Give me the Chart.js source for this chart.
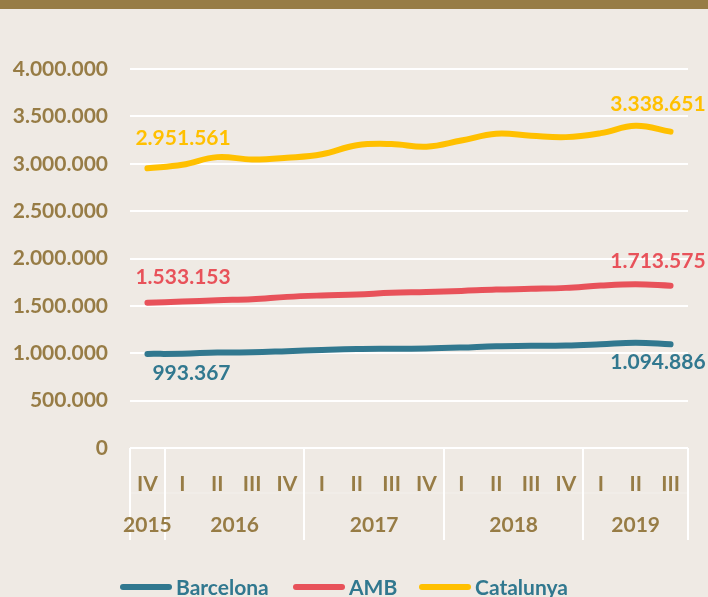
<!DOCTYPE html>
<html>
<head>
<meta charset="utf-8">
<script src="https://cdn.jsdelivr.net/npm/chart.js@4.4.1/dist/chart.umd.min.js"></script>
<style>
  html, body { margin: 0; padding: 0; background: #EFEAE4; overflow: hidden; }
  #wrap { width: 708px; height: 597px; position: relative; }
</style>
</head>
<body>
<div id="wrap"><canvas id="chart"></canvas></div>
<script>
const quarters = ["IV", "I", "II", "III", "IV", "I", "II", "III", "IV", "I", "II", "III", "IV", "I", "II", "III"];
const years = ["2015", "2016", "2017", "2018", "2019"];
const yearSizes = [1, 4, 4, 4, 3];

const barcelona = [993367, 995000, 1008000, 1010000, 1022000, 1035000, 1045000, 1048000, 1050000, 1060000, 1075000, 1078000, 1082000, 1095000, 1110000, 1094886];
const amb = [1533153, 1545000, 1560000, 1570000, 1595000, 1610000, 1620000, 1638000, 1646000, 1658000, 1672000, 1680000, 1690000, 1715000, 1728000, 1713575];
const catalunya = [2951561, 2990000, 3070000, 3045000, 3063000, 3100000, 3195000, 3208000, 3180000, 3245000, 3316000, 3296000, 3281000, 3323000, 3400000, 3338651];

const BROWN = "#977C45";
const BG = "#EFEAE4";
const FONT = "Lato";

function fmt(v) {
  return Math.round(v).toString().replace(/\B(?=(\d{3})+(?!\d))/g, ".");
}

// background + top bar
const backdrop = {
  id: "backdrop",
  beforeDraw(chart) {
    const c = chart.ctx;
    c.save();
    c.fillStyle = BG;
    c.fillRect(0, 0, chart.width, chart.height);
    c.fillStyle = BROWN;
    c.fillRect(0, 0, chart.width, 9);
    c.restore();
  }
};

// year row, separators, end labels, legend
const extras = {
  id: "extras",
  afterDraw(chart) {
    const c = chart.ctx;
    const x = chart.scales.x;
    const area = chart.chartArea;
    const step = (area.right - area.left) / quarters.length;
    c.save();

    // separators
    c.strokeStyle = "#FFFFFF";
    c.lineWidth = 2;
    let k = 0;
    const bounds = [0];
    yearSizes.forEach(n => { k += n; bounds.push(k); });
    bounds.forEach(b => {
      const px = Math.round(area.left + b * step);
      c.beginPath();
      c.moveTo(px, area.bottom);
      c.lineTo(px, area.bottom + 92);
      c.stroke();
    });
    c.strokeStyle = "rgba(255,255,255,0.35)";
    c.lineWidth = 1;
    c.beginPath();
    c.moveTo(area.left, area.bottom + 45);
    c.lineTo(area.right, area.bottom + 45);
    c.stroke();

    // years
    c.fillStyle = BROWN;
    c.font = "bold 21px " + FONT;
    c.textAlign = "center";
    c.textBaseline = "middle";
    years.forEach((y, i) => {
      const cx = area.left + (bounds[i] + bounds[i + 1]) / 2 * step;
      c.fillText(y, cx, area.bottom + 77);
    });

    // end labels
    const ends = [
      { ds: 0, idx: 0, dx: 5, dy: 19, align: "left" },
      { ds: 0, idx: quarters.length - 1, dx: 35, dy: 18, align: "right" },
      { ds: 1, idx: 0, dx: -12, dy: -25, align: "left" },
      { ds: 1, idx: quarters.length - 1, dx: 35, dy: -24, align: "right" },
      { ds: 2, idx: 0, dx: -12, dy: -30, align: "left" },
      { ds: 2, idx: quarters.length - 1, dx: 35, dy: -27, align: "right" }
    ];
    ends.forEach(e => {
      const d = chart.data.datasets[e.ds];
      const pt = chart.getDatasetMeta(e.ds).data[e.idx];
      c.fillStyle = d.borderColor;
      c.textAlign = e.align;
      c.fillText(fmt(d.data[e.idx]), pt.x + e.dx, pt.y + e.dy);
    });

    // legend
    const starts = [120, 293, 419];
    const ly = 587;
    chart.data.datasets.forEach((d, i) => {
      c.strokeStyle = d.borderColor;
      c.lineWidth = 6;
      c.lineCap = "round";
      c.beginPath();
      c.moveTo(starts[i] + 3, ly);
      c.lineTo(starts[i] + 49, ly);
      c.stroke();
      c.fillStyle = "#31788F";
      c.textAlign = "left";
      c.fillText(d.label, starts[i] + 56, ly + 1);
    });
    c.restore();
  }
};

const lineStyle = { borderWidth: 6, pointRadius: 0, tension: 0.4, borderCapStyle: "round", borderJoinStyle: "round", fill: false };

new Chart(document.getElementById("chart"), {
  type: "line",
  data: {
    labels: quarters,
    datasets: [
      { label: "Barcelona", data: barcelona, borderColor: "#31788F", ...lineStyle },
      { label: "AMB", data: amb, borderColor: "#E8525A", ...lineStyle },
      { label: "Catalunya", data: catalunya, borderColor: "#FFC000", ...lineStyle }
    ]
  },
  options: {
    responsive: true,
    maintainAspectRatio: false,
    animation: false,
    layout: { padding: { top: 69, right: 20, left: 0, bottom: 0 } },
    plugins: { legend: { display: false }, tooltip: { enabled: false } },
    scales: {
      x: {
        offset: true,
        grid: { display: false },
        border: { display: false },
        ticks: { color: BROWN, font: { family: FONT, size: 21, weight: "bold" }, padding: 16, maxRotation: 0, autoSkip: false },
        afterFit(scale) { scale.height = 149; }
      },
      y: {
        min: 0,
        max: 4000000,
        grid: { color: "#FFFFFF", lineWidth: 2, drawTicks: false },
        border: { display: false },
        ticks: {
          stepSize: 500000,
          color: BROWN,
          padding: 22,
          font: { family: FONT, size: 21, weight: "bold" },
          callback: v => fmt(v)
        },
        afterFit(scale) { scale.width = 130; }
      }
    }
  },
  plugins: [backdrop, extras]
});
</script>
</body>
</html>
